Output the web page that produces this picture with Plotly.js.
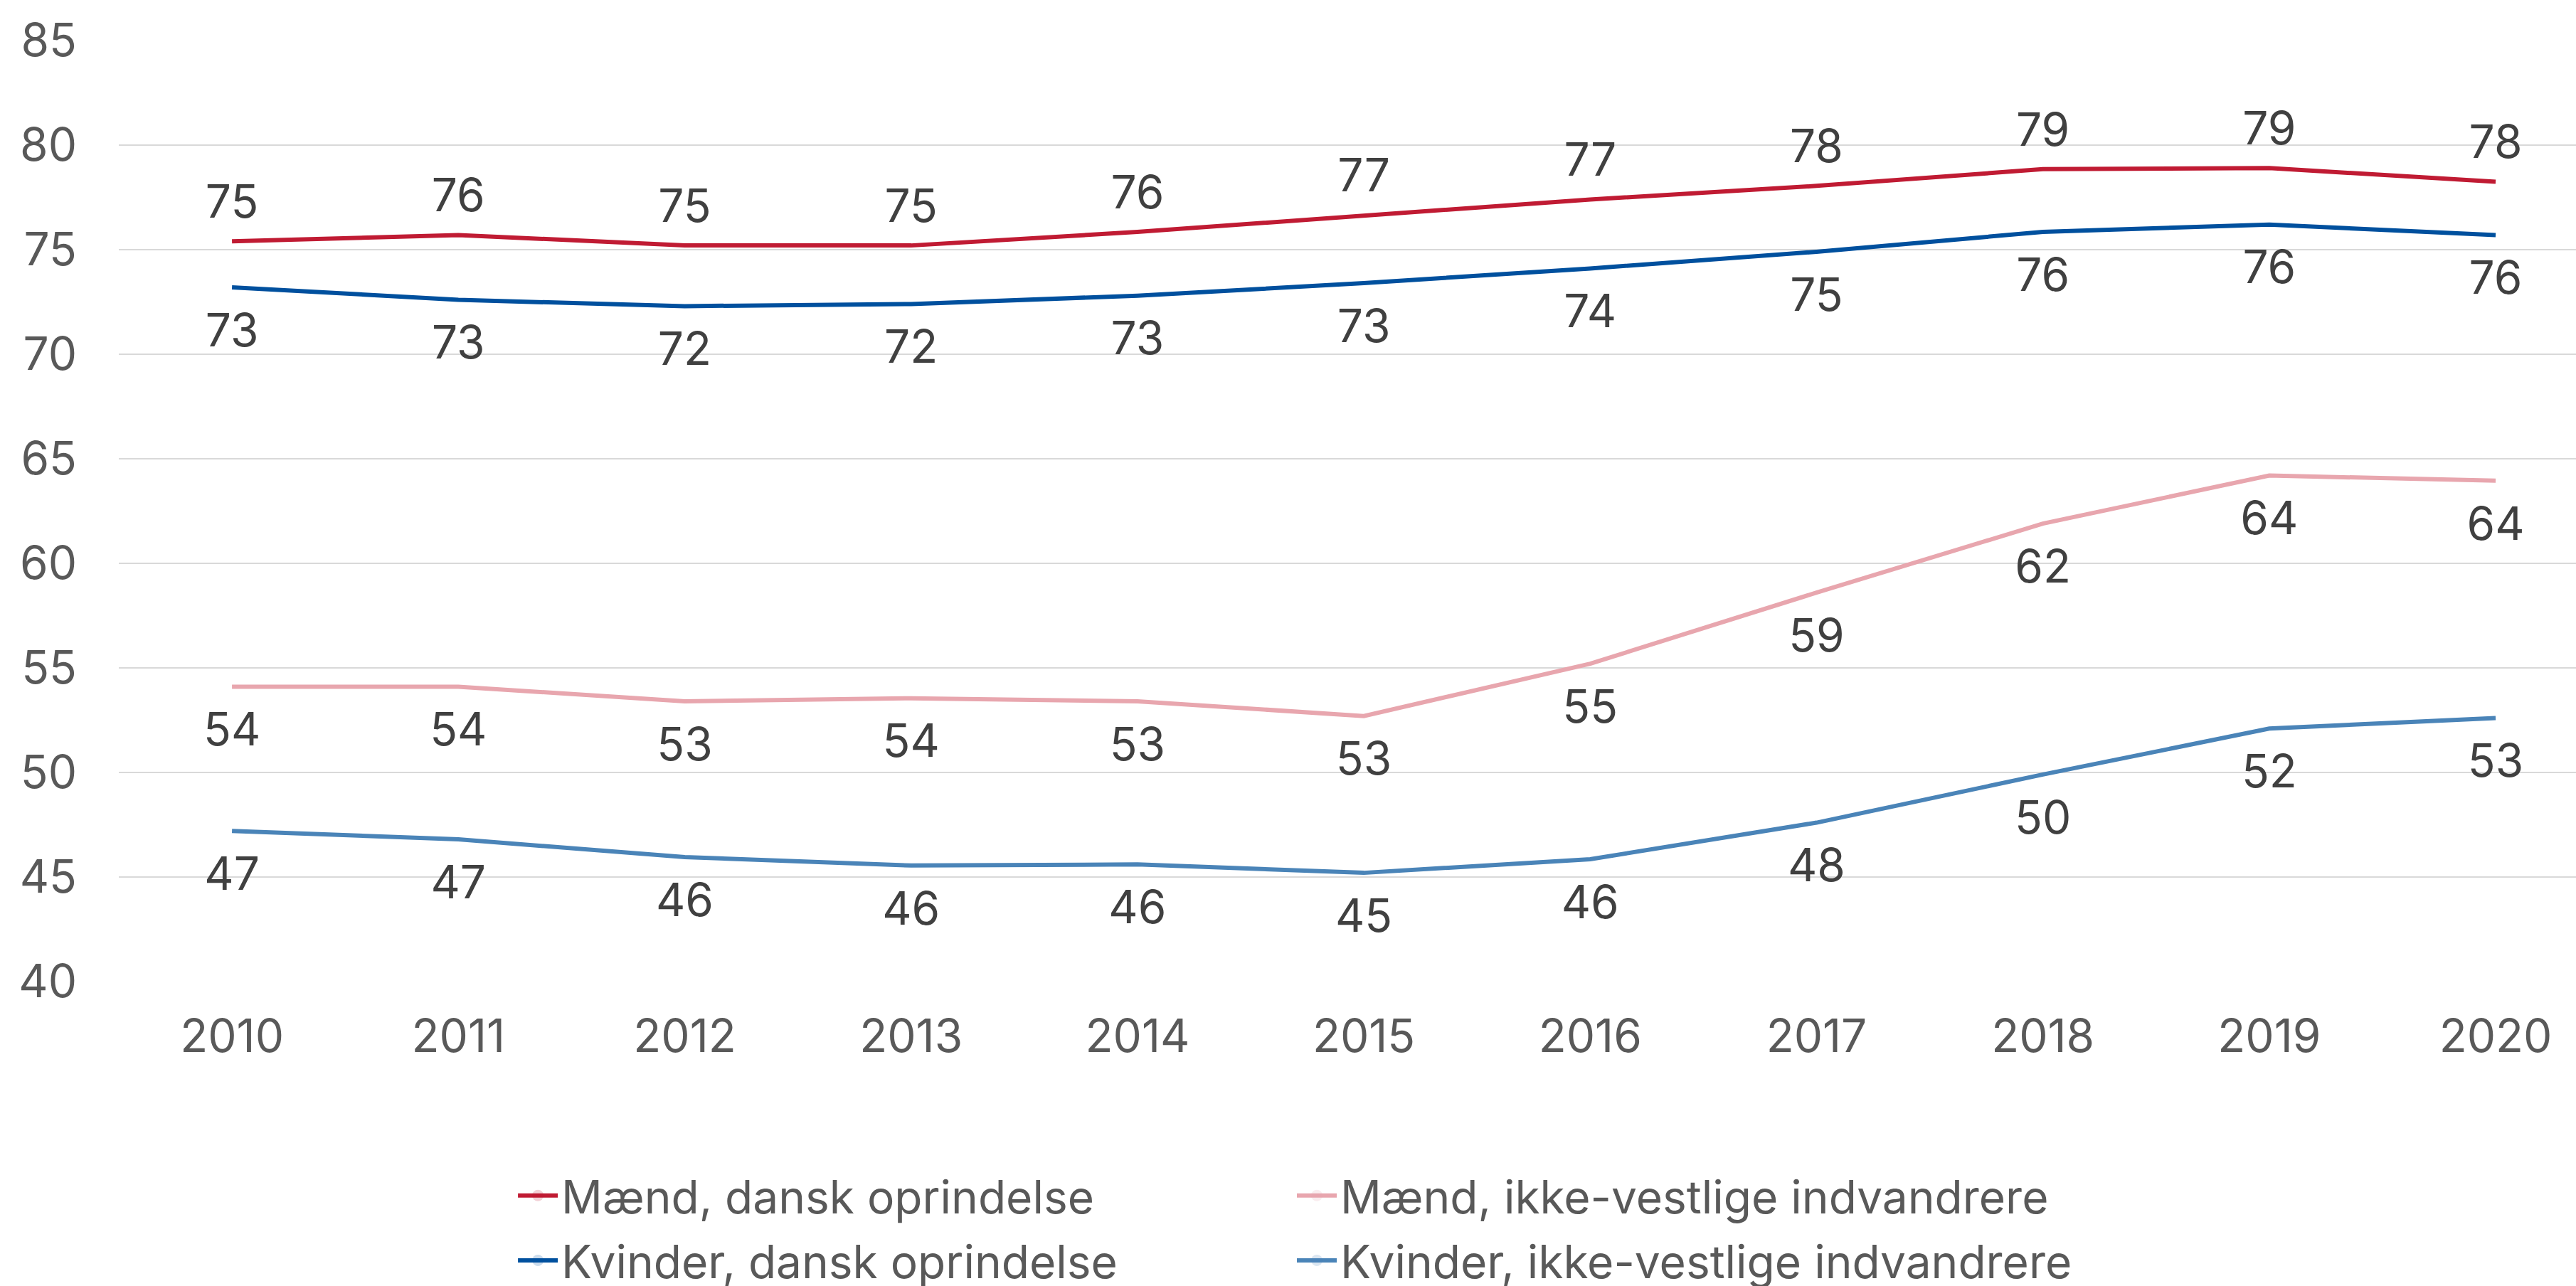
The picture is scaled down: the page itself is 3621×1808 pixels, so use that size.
<!DOCTYPE html>
<html>
<head>
<meta charset="utf-8">
<script src="https://cdn.plot.ly/plotly-3.0.1.min.js"></script>
<style>html,body{margin:0;padding:0;background:#fff;}#chart{width:3621px;height:1808px;}</style>
</head>
<body>
<div id="chart"></div>
<script>
const years = [2010, 2011, 2012, 2013, 2014, 2015, 2016, 2017, 2018, 2019, 2020];
const maendDansk = [75.4, 75.7, 75.2, 75.2, 75.85, 76.65, 77.4, 78.05, 78.85, 78.9, 78.25];
const kvinderDansk = [73.2, 72.6, 72.3, 72.4, 72.8, 73.4, 74.1, 74.9, 75.85, 76.2, 75.7];
const maendIkkeVestlige = [54.1, 54.1, 53.4, 53.55, 53.4, 52.7, 55.2, 58.6, 61.9, 64.2, 63.95];
const kvinderIkkeVestlige = [47.2, 46.8, 45.95, 45.55, 45.6, 45.2, 45.85, 47.6, 49.9, 52.1, 52.6];
const yTicks = [40, 45, 50, 55, 60, 65, 70, 75, 80, 85];

const FONT = 'Inter, "Noto Sans", sans-serif';

function series(name, y, color, pos, msize, legend, group) {
  return {
    x: years, y: y, name: name, type: 'scatter', mode: 'lines+markers+text',
    line: {color: color, width: 6},
    marker: {size: msize, opacity: 0, color: color},
    text: y.map(v => Math.round(v).toString()),
    textposition: pos,
    textfont: {family: FONT, size: 64, color: '#404040'},
    hoverinfo: 'skip',
    legend: legend,
    legendgroup: group,
    cliponaxis: false
  };
}

const data = [
  series('Mænd, dansk oprindelse', maendDansk, '#C01B33', 'top center', 26, 'legend', 'a'),
  series('Kvinder, dansk oprindelse', kvinderDansk, '#00509E', 'bottom center', 54, 'legend', 'b'),
  series('Mænd, ikke-vestlige indvandrere', maendIkkeVestlige, '#E8A6AE', 'bottom center', 54, 'legend2', 'c'),
  series('Kvinder, ikke-vestlige indvandrere', kvinderIkkeVestlige, '#4A84B8', 'bottom center', 54, 'legend2', 'd')
];

const legendBase = {
  orientation: 'v', xanchor: 'left', yanchor: 'top', yref: 'container',
  font: {family: FONT, size: 64, color: '#595959'},
  itemwidth: 56, tracegroupgap: 5, bgcolor: 'rgba(0,0,0,0)'
};

const layout = {
  width: 3621, height: 1808,
  margin: {l: 167, r: 0, t: 57, b: 428, autoexpand: false},
  paper_bgcolor: '#ffffff', plot_bgcolor: '#ffffff',
  showlegend: true,
  legend: Object.assign({}, legendBase, {x: 0.161, y: 0.097}),
  legend2: Object.assign({}, legendBase, {x: 0.478, y: 0.097}),
  xaxis: {
    range: [2009.5, 2020.355], tickvals: years, ticktext: years.map(String),
    showgrid: false, zeroline: false, showline: false, ticks: '',
    ticklabelstandoff: 34,
    tickfont: {family: FONT, size: 64, color: '#595959'}
  },
  yaxis: {
    range: [40, 85], tickvals: yTicks, ticktext: yTicks.map(String),
    showgrid: true, gridcolor: '#D9D9D9', gridwidth: 2,
    zeroline: false, showline: false, ticks: '',
    ticklabelstandoff: 58,
    tickfont: {family: FONT, size: 64, color: '#595959'}
  }
};

Plotly.newPlot('chart', data, layout, {staticPlot: true, displayModeBar: false});
</script>
</body>
</html>
